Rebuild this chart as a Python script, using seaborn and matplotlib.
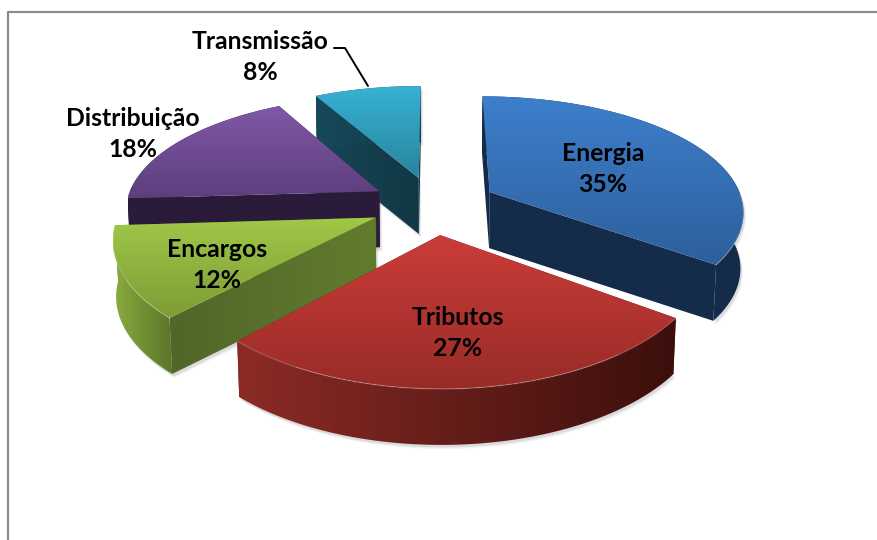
import numpy as np
import seaborn as sns
import matplotlib.pyplot as plt
from matplotlib.patches import Polygon

categories = ['Energia', 'Tributos', 'Encargos', 'Distribuição', 'Transmissão']
percent = [35, 27, 12, 18, 8]

# top surface (light, dark), outer wall (left, right), cut wall (left, right)
top_colors = [('#3d7fcc', '#2e5f9b'), ('#cb3d39', '#982b27'), ('#a0c848', '#7c9c35'),
              ('#8059a8', '#5d3e7c'), ('#37b2d4', '#28849d')]
outer_colors = [('#142b49', '#142b49'), ('#8c2b26', '#3c0f0c'), ('#8aad3e', '#5a7429'),
                ('#2c1c3c', '#2a1a38'), ('#17495a', '#123a48')]
cut_colors = [('#142b49', '#142b49'), ('#5c1a16', '#45110e'), ('#50662a', '#627c2e'),
              ('#2a1a38', '#2c1c3c'), ('#184656', '#103844')]

label_x = [603, 458, 217, 133, 260]
label_y = [169, 333, 265, 134, 57]

# pie geometry, in pixels of the picture
CX, CY = 434, 205
RX, RY = 254, 116
PERSP_X = 0.15
PERSP_Y = 0.17
EXPLODE = 0.25
DEPTH = 56

sns.set_theme(style='white')
plt.rcParams['font.family'] = ['Lato', 'DejaVu Sans']


def project(u, v, drop=0.0):
    shrink = 1 - 0.01 * drop / DEPTH
    x = CX + RX * u / (1 + PERSP_X * v) * shrink
    y = CY - RY * v / (1 + PERSP_Y * v) + drop
    return x, y


def fill_gradient(ax, pts, colors, vertical=True, zorder=1):
    cmap = sns.blend_palette(colors, as_cmap=True)
    pts = np.array(pts)
    grad = np.linspace(0, 1, 256)
    grad = grad[:, None] if vertical else grad[None, :]
    extent = (pts[:, 0].min(), pts[:, 0].max(), pts[:, 1].max(), pts[:, 1].min())
    im = ax.imshow(grad, cmap=cmap, extent=extent, aspect='auto', zorder=zorder,
                   origin='upper', interpolation='bilinear')
    poly = Polygon(pts, closed=True, transform=ax.transData, fc='none', ec='none')
    ax.add_patch(poly)
    im.set_clip_path(poly)


def draw_slice(ax, start, end, idx, zorder):
    mid = np.radians((start + end) / 2)
    ou, ov = EXPLODE * np.sin(mid), EXPLODE * np.cos(mid)
    angles = np.radians(np.linspace(start, end, 80))
    us = ou + np.sin(angles)
    vs = ov + np.cos(angles)

    apex_t = project(ou, ov)
    apex_b = project(ou, ov, DEPTH)
    arc_t = [project(u, v) for u, v in zip(us, vs)]
    arc_b = [project(u, v, DEPTH) for u, v in zip(us, vs)]

    # soft shadow of the whole extruded piece
    outline = np.array([apex_t] + arc_t + arc_b[::-1] + [apex_b])
    for off, alpha in [(4, 0.08), (2.5, 0.14)]:
        ax.add_patch(Polygon(outline + [off * 0.6, off], closed=True, fc='#555555',
                             ec='none', alpha=alpha, zorder=zorder))

    # walls, back ones first, the top surface covers what is hidden
    wall_1 = [apex_t, arc_t[0], arc_b[0], apex_b]
    wall_2 = [apex_t, arc_t[-1], arc_b[-1], apex_b]
    walls = [wall_1, wall_2]
    walls.sort(key=lambda w: min(p[1] for p in w[:2]) + max(p[1] for p in w[:2]))
    for w in walls:
        fill_gradient(ax, w, cut_colors[idx], vertical=False, zorder=zorder + 0.1)
    fill_gradient(ax, arc_t + arc_b[::-1], outer_colors[idx], vertical=False, zorder=zorder + 0.2)

    # top
    top = [apex_t] + arc_t
    fill_gradient(ax, top, top_colors[idx], vertical=True, zorder=zorder + 0.3)

    # bright rim, only on the part of the arc facing the viewer
    front = np.cos(angles) < 0
    if front.any():
        arc = np.array(arc_t)[front]
        ax.plot(arc[:, 0], arc[:, 1], color='white', lw=0.9, alpha=0.22, zorder=zorder + 0.4,
                solid_capstyle='round')


fig = plt.figure(figsize=(8.77, 5.40), dpi=100)
ax = fig.add_axes([0, 0, 1, 1])

edges = np.concatenate([[0], np.cumsum(percent)]) * 3.6
for z, i in enumerate([4, 3, 0, 2, 1]):
    draw_slice(ax, edges[i], edges[i + 1], i, 2 + z)

ax.set_xlim(0, 877)
ax.set_ylim(540, 0)
ax.axis('off')

# chart area border, only the top and left show
ax.plot([8, 8, 877], [540, 12, 12], color='#8c8c8c', lw=1.6, zorder=1, clip_on=False)

# leader line of the small slice
ax.plot([334, 345, 368], [48, 48, 86], color='black', lw=1.4, zorder=20)

for name, pct, x, y in zip(categories, percent, label_x, label_y):
    ax.text(x, y, f'{name}\n{pct}%', ha='center', va='center', fontsize=17.8,
            fontweight='bold', color='black', linespacing=1.45, zorder=21)

fig.savefig('out.png', dpi=100)
